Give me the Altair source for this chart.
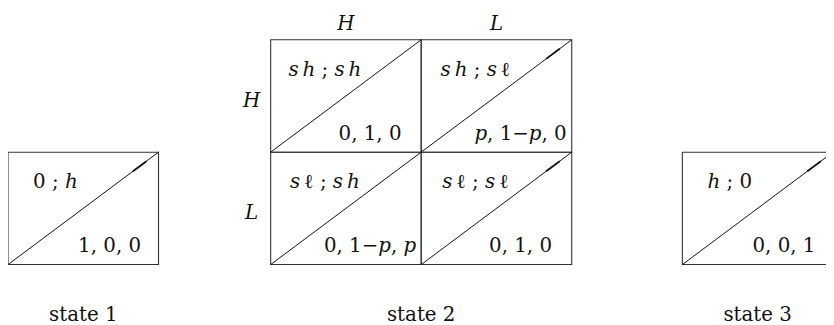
import altair as alt
import pandas as pd

# ---------------- data ----------------
cell_state = [1, 2, 2, 2, 2, 3]
cell_row = [0, 0, 0, 1, 1, 0]
cell_col = [0, 0, 1, 0, 1, 0]
upper_text = ["0 ; ℎ", "𝑠\u2009ℎ ; 𝑠\u2009ℎ", "𝑠\u2009ℎ ; 𝑠\u2009ℓ",
              "𝑠\u2009ℓ ; 𝑠\u2009ℎ", "𝑠\u2009ℓ ; 𝑠\u2009ℓ", "ℎ ; 0"]
lower_text = ["1, 0, 0", "0, 1, 0", "𝑝, 1−𝑝, 0", "0, 1−𝑝, 𝑝", "0, 1, 0", "0, 0, 1"]
thick_tip = [True, False, True, False, True, True]

col_labels = ["H", "L"]
row_labels = ["H", "L"]
state_names = ["state 1", "state 2", "state 3"]
state_ids = [1, 2, 3]

# ---------------- layout (cell units) ----------------
CELL_W, CELL_H = 152.0, 113.5
W, H = 826, 317
state_x0 = {1: 0.0, 2: 1.745, 3: 4.48}
state_y0 = {1: 1.269, 2: 0.269, 3: 1.269}
state_ncols = {1: 1, 2: 2, 3: 1}
upper_off = {1: 0.315, 2: 0.36, 3: 0.315}
lower_off = {1: 0.675, 2: 0.66, 3: 0.675}

FONT = "DejaVu Serif"
FS = 20

cells = []
for s, r, c, ut, lt, tk in zip(cell_state, cell_row, cell_col, upper_text, lower_text, thick_tip):
    x0 = state_x0[s] + c
    y0 = state_y0[s] + r
    cells.append(dict(x0=x0, x1=x0 + 1, y0=y0, y1=y0 + 1,
                      ux=x0 + upper_off[s], uy=y0 + 0.32,
                      lx=x0 + lower_off[s], ly=y0 + 0.89,
                      ut=ut, lt=lt,
                      tx0=x0 + 0.83, ty0=y0 + 0.17, tx1=x0 + 0.92, ty1=y0 + 0.08, tk=tk))
cells = pd.DataFrame(cells)
tips = cells[cells.tk]

col_df = pd.DataFrame(dict(lab=col_labels,
                           x=[state_x0[2] + i + 0.5 for i in range(2)],
                           y=[0.179] * 2))
row_df = pd.DataFrame(dict(lab=row_labels,
                           x=[state_x0[2] - 0.127] * 2,
                           y=[state_y0[2] + i + 0.595 for i in range(2)]))
st_df = pd.DataFrame(dict(lab=state_names,
                          x=[state_x0[s] + state_ncols[s] / 2 for s in state_ids],
                          y=[2.767] * 3))

xs = alt.Scale(domain=[0, W / CELL_W], nice=False, zero=False)
ys = alt.Scale(domain=[0, H / CELL_H], nice=False, zero=False, reverse=True)


def X(f):
    return alt.X(f, type="quantitative", scale=xs, axis=None)


def Y(f):
    return alt.Y(f, type="quantitative", scale=ys, axis=None)


base = alt.Chart(cells)

boxes = base.mark_rect(fill=None, stroke="#333", strokeWidth=1.1).encode(
    x=X("x0"), x2="x1", y=Y("y0"), y2="y1")
diag = base.mark_rule(stroke="#111", strokeWidth=1).encode(
    x=X("x0"), y=Y("y1"), x2="x1", y2="y0")
tip = alt.Chart(tips).mark_rule(stroke="#111", strokeWidth=1.8).encode(
    x=X("tx0"), y=Y("ty0"), x2="tx1", y2="ty1")
utext = base.mark_text(font=FONT, fontSize=FS, align="center", baseline="alphabetic",
                       color="#111").encode(x=X("ux"), y=Y("uy"), text="ut")
ltext = base.mark_text(font=FONT, fontSize=FS, align="center", baseline="alphabetic",
                       color="#111").encode(x=X("lx"), y=Y("ly"), text="lt")
ctext = alt.Chart(col_df).mark_text(font=FONT, fontSize=FS, fontStyle="italic",
                                    align="center", baseline="alphabetic", color="#111").encode(
    x=X("x"), y=Y("y"), text="lab")
rtext = alt.Chart(row_df).mark_text(font=FONT, fontSize=FS, fontStyle="italic",
                                    align="center", baseline="alphabetic", color="#111").encode(
    x=X("x"), y=Y("y"), text="lab")
stext = alt.Chart(st_df).mark_text(font=FONT, fontSize=FS, align="center",
                                   baseline="alphabetic", color="#111").encode(
    x=X("x"), y=Y("y"), text="lab")

chart = alt.layer(boxes, diag, tip, utext, ltext, ctext, rtext, stext).properties(
    width=W, height=H, autosize=alt.AutoSizeParams(type="none"), padding=0
).configure_view(stroke=None)

chart.save("out.html", embed_options={"renderer": "svg", "actions": False})
